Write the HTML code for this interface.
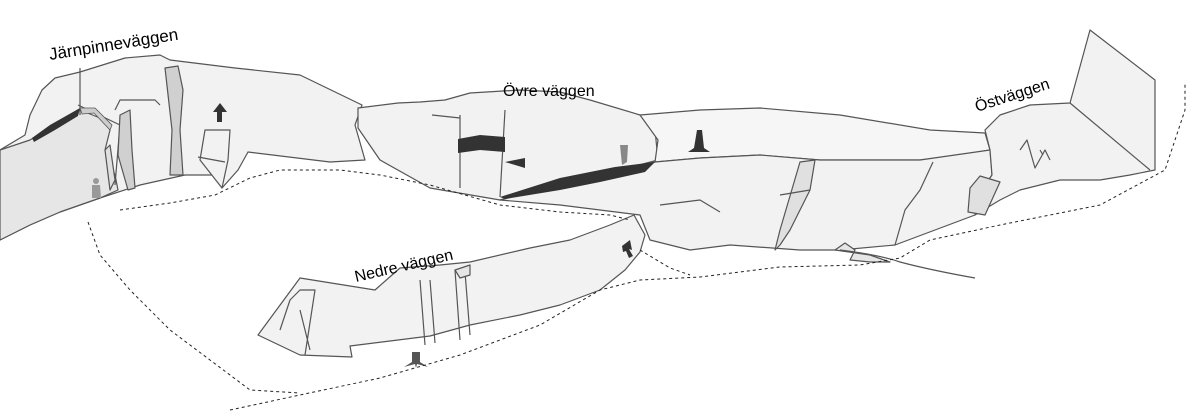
<!DOCTYPE html>
<html><head><meta charset="utf-8"><style>
html,body{margin:0;padding:0;background:#fff;width:1200px;height:411px;overflow:hidden}
svg{display:block}
text{font-family:"Liberation Sans",sans-serif;font-size:16px;fill:#000}
</style></head><body>
<svg width="1200" height="411" viewBox="0 0 1200 411" xmlns="http://www.w3.org/2000/svg">
<g stroke="#555" stroke-width="1.2" stroke-linejoin="round" fill="#f2f2f2">
<!-- Järnpinneväggen -->
<path d="M0,150 L25,135 L30,115 L42,90 L55,78 L80,72 L125,58 L160,55 L170,60 L235,68 L300,75 L362,105 L355,125 L365,160 L330,162 L248,152 L238,170 L222,188 L215,175 L185,175 L140,185 L100,198 L60,212 L30,225 L0,240 Z"/>
<path d="M0,150 L30,140 L80,110 L105,120 L110,130 L105,150 L115,175 L118,190 L100,198 L60,212 L30,225 L0,240 Z" fill="#e6e6e6"/>
<path d="M78,105 L120,125 L115,185" fill="none"/>
<path d="M115,110 L120,100 L155,100 L160,105" fill="none"/>
<path d="M165,68 L178,66 L183,90 L180,130 L183,175 L170,175 L172,130 Z" fill="#d0d0d0"/>
<path d="M120,115 L130,110 L132,150 L135,188 L128,190 L118,155 Z" fill="#d0d0d0"/>
<path d="M105,150 L110,145 L115,180 L110,190 Z" fill="#e0e0e0"/>
<path d="M205,130 L230,130 L228,160 L222,188 L200,160 Z" fill="#f2f2f2"/>
<path d="M198,157 L225,162" fill="none"/>
<path d="M80,68 L80,115" fill="none"/>
<!-- Övre -->
<path d="M358,108 L398,103 L420,102 L445,100 L470,93 L520,90 L560,92 L590,100 L640,115 L655,130 L658,160 L600,175 L500,200 L430,188 L380,160 L358,128 Z"/>
<path d="M460,115 L460,188 M505,110 L500,197 M432,115 L460,118" fill="none"/>
<!-- upper strip -->
<path d="M640,115 L700,110 L760,108 L840,115 L930,130 L985,133 L990,150 L960,155 L920,160 L820,160 L760,155 L700,158 L655,162 L658,140 Z" fill="#f6f6f6"/>
<!-- lower middle -->
<path d="M655,162 L700,158 L760,155 L820,160 L920,160 L990,150 L992,175 L985,185 L975,215 L935,230 L895,245 L840,250 L800,250 L730,245 L690,250 L650,240 L640,215 L560,205 L500,200 L600,175 Z"/>
<path d="M800,162 L815,160 L810,190 L790,230 L780,245 L775,250 L780,230 Z" fill="#e0e0e0"/>
<path d="M933,162 L920,190 L905,210 L895,245 M660,205 L700,200 L720,212 M780,195 L810,190" fill="none"/>
<path d="M835,250 L845,243 L855,250 L850,260 L870,262 L890,262 L870,255 Z" fill="#e6e6e6"/>
<path d="M840,250 Q880,255 900,262 Q930,270 975,278" fill="none"/>
<!-- Östväggen -->
<path d="M990,150 L985,130 L1000,115 L1030,105 L1070,103 L1090,30 L1155,80 L1155,170 L1130,175 L1100,180 L1060,180 L1020,190 L1000,200 L975,215 L985,185 L992,175 Z"/>
<path d="M1070,103 L1150,170" fill="none"/>
<path d="M1020,150 L1027,140 L1035,168 L1045,150 L1050,160 M1043,155 L1040,150" fill="none"/>
<path d="M970,188 L980,176 L1000,182 L985,215 L968,212 Z" fill="#e0e0e0"/>
<!-- Nedre -->
<path d="M634,215 L610,225 L570,240 L530,248 L470,262 L440,265 L400,268 L375,290 L300,278 L258,335 L300,355 L352,357 L350,346 L430,336 L470,325 L520,315 L560,305 L600,290 L625,270 L640,252 L645,235 Z"/>
<path d="M280,330 L290,300 L300,290 L315,290 L305,355 M300,310 L310,350 M420,280 L425,345 M430,280 L435,343 M455,270 L460,340 M465,272 L470,335" fill="none"/>
<path d="M455,270 L470,265 L470,275 L460,278 Z" fill="#e6e6e6"/>
</g>
<!-- dark features -->
<g fill="#333">
<path d="M32,138 L50,125 L80,108 L78,116 L55,130 L34,142 Z"/>
<path d="M80,108 L95,108 L112,125 L110,130 L94,113 L82,114 Z" fill="#ccc" stroke="#555" stroke-width="0.8"/>
<path d="M458,139 L480,135 L505,137 L505,152 L480,150 L458,153 Z"/>
<path d="M505,162 L525,158 L525,168 Z"/>
<path d="M500,197 L560,178 L615,167 L655,162 L645,172 L600,182 L560,190 L505,199 Z"/>
<path d="M620,145 L628,145 L627,162 L622,165 Z" fill="#888"/>
<path d="M213,112 L220,103 L227,112 L222,112 L222,122 L217,122 L217,112 Z"/>
<path d="M697,130 L702,130 L704,148 L710,152 L688,152 L694,148 Z"/>
<path d="M412,352 L420,352 L420,362 L428,367 L417,364 L416,368 L415,364 L404,367 L412,362 Z" fill="#555"/>
<path d="M622,246 L630,240 L632,250 L629,249 L633,256 L629,258 L626,251 L623,252 Z"/>
<circle cx="96" cy="181" r="3" fill="#999"/><path d="M92,185 L100,185 L101,198 L92,198 Z" fill="#999"/>
</g>
<!-- dashed paths -->
<g fill="none" stroke="#222" stroke-width="1" stroke-dasharray="3,3">
<path d="M120,210 L170,203 L215,195 L250,178 L280,170 L340,170 L380,175 L430,185 L500,205 L560,212 L610,215 L630,220"/>
<path d="M88,222 L100,255 L130,290 L170,330 L210,360 L250,390 L300,393"/>
<path d="M230,410 L300,395 L380,378 L460,355 L540,325 L600,290 L640,280 L700,277 L780,267 L860,265 L900,258 L930,240 L1000,225 L1100,205 L1165,170 L1185,110 L1185,82"/>
<path d="M640,250 L670,268 L690,275"/>
</g>
<text x="50" y="60" style="font-size:17px" transform="rotate(-9 50 60)">Järnpinneväggen</text>
<text x="503" y="96">Övre väggen</text>
<text x="977" y="112" transform="rotate(-18 977 112)">Östväggen</text>
<text x="356" y="282" transform="rotate(-13 356 282)">Nedre väggen</text>
</svg>
</body></html>
